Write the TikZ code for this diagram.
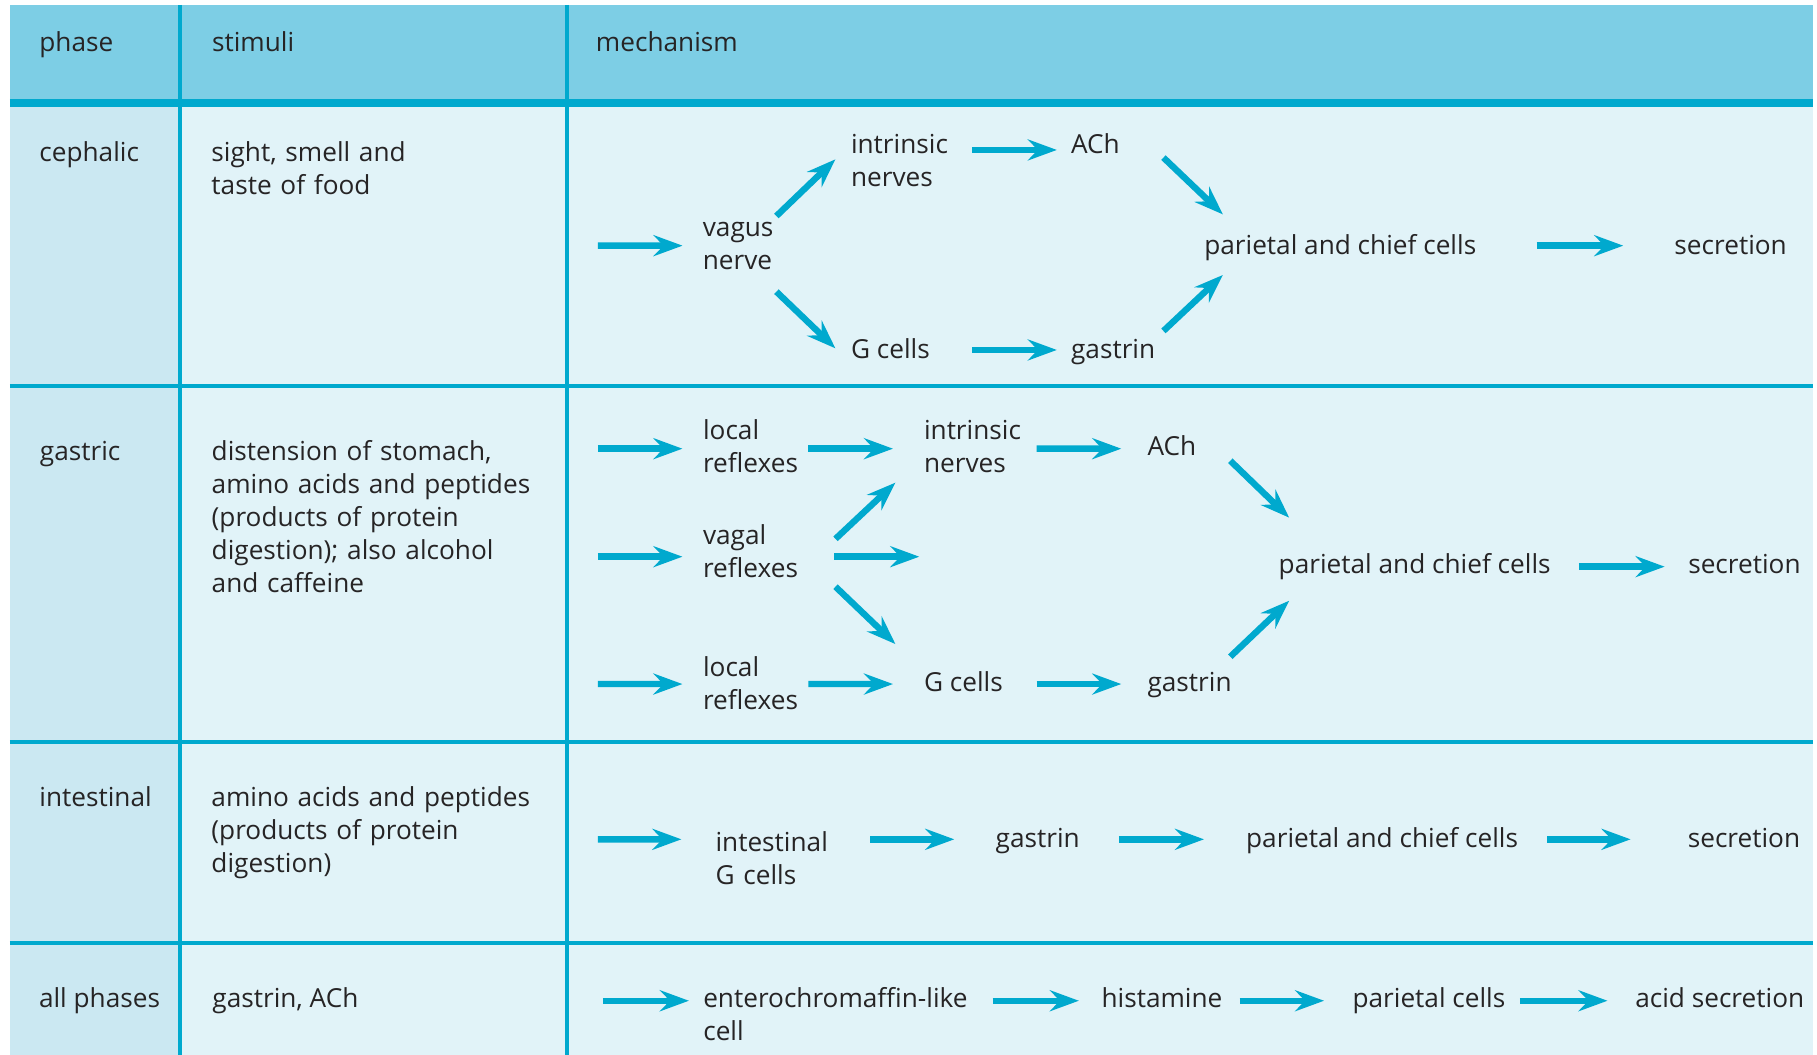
\documentclass[tikz,border=0pt]{standalone}
\usepackage{fontspec}
\setmainfont{Open Sans}
\usetikzlibrary{arrows.meta}
\definecolor{hdr}{RGB}{125,206,229}
\definecolor{lc}{RGB}{0,169,206}
\definecolor{bodyc}{RGB}{225,243,248}
\definecolor{phc}{RGB}{203,232,242}
\definecolor{txt}{RGB}{38,36,37}
\begin{document}
\begin{tikzpicture}[x=0.5794pt,y=-0.5794pt,
  lbl/.style={anchor=base west, inner sep=0pt, outer sep=0pt, text=txt, font=\fontsize{13.1}{16.5}\selectfont},
  ml/.style={lbl, text width=300pt, align=left},
  arr/.style={draw=lc, line width=3.2pt, -{Stealth[length=14.5pt,width=10.5pt,inset=5pt]}},
  rule/.style={draw=lc, line width=2pt}]
\useasboundingbox (0,0) rectangle (1568,910);
\fill[white] (0,0) rectangle (1568,910);
% table
\fill[hdr] (8.6,4.3) rectangle (1564.6,89);
\fill[phc] (8.6,89) rectangle (155.3,910);
\fill[bodyc] (155.3,89) rectangle (1564.6,910);
\draw[lc, line width=4pt] (8.6,88.9) -- (1564.6,88.9);
\foreach \yy in {333.1,640,814} \draw[rule] (8.6,\yy) -- (1564.6,\yy);
\foreach \xx in {155.3,489} \draw[rule] (\xx,4.3) -- (\xx,910);
% header
\node[lbl] (hph) at (34,44.6) {phase};
\node[lbl] (hst) at (183,44.6) {stimuli};
\node[lbl] (hme) at (514.3,44.6) {mechanism};
% cephalic
\node[lbl] (pceph) at (34,139.5) {cephalic};
\node[ml] (sceph) at (182.5,139.5) {sight, smell and\\taste of food};
\node[ml] (vagus) at (606.5,204.2) {vagus\\nerve};
\node[ml] (cint) at (734.4,132.3) {intrinsic\\nerves};
\node[lbl] (cach) at (924.3,132.3) {ACh};
\node[lbl] (cpcc) at (1039.3,219.5) {parietal and chief cells};
\node[lbl] (csec) at (1445,219.5) {secretion};
\node[lbl] (cgc) at (734.4,309.2) {G cells};
\node[lbl] (cgas) at (924.3,309.2) {gastrin};
\coordinate (c0) at (516,212);
\draw[arr] (c0) -- ([shift={(-17.5,7.8)}]vagus.base west);
\draw[arr] ([shift={(63.5,-17.8)}]vagus.base west) -- ([shift={(-13.5,5.2)}]cint.base west);
\draw[arr] ([shift={(104.4,-2.9)}]cint.base west) -- ([shift={(-12.3,-2.9)}]cach.base west);
\draw[arr] ([shift={(79.7,3.7)}]cach.base west) -- ([shift={(16,-34.5)}]cpcc.base west);
\draw[arr] ([shift={(63.5,47.5)}]vagus.base west) -- ([shift={(-13.5,-8.6)}]cgc.base west);
\draw[arr] ([shift={(104.4,-7.2)}]cgc.base west) -- ([shift={(-12.3,-7.2)}]cgas.base west);
\draw[arr] ([shift={(79.7,-23.6)}]cgas.base west) -- ([shift={(16,17.8)}]cpcc.base west);
\draw[arr] ([shift={(286.7,-7.5)}]cpcc.base west) -- ([shift={(-44.2,-7.5)}]csec.base west);
% gastric
\node[lbl] (pgas) at (34.5,397) {gastric};
\node[ml] (sgas) at (182.7,397) {distension of stomach,\\amino acids and peptides\\(products of protein\\digestion); also alcohol\\and caffeine};
\node[ml] (gl1) at (606.7,379.1) {local\\reflexes};
\node[ml] (gint) at (797.4,379.1) {intrinsic\\nerves};
\node[lbl] (gach) at (990.3,393.5) {ACh};
\node[lbl] (gpcc) at (1103.5,494.8) {parietal and chief cells};
\node[lbl] (gsec) at (1456.9,494.8) {secretion};
\node[ml] (gvag) at (606.7,469.5) {vagal\\reflexes};
\node[ml] (gl2) at (606.7,583.4) {local\\reflexes};
\node[lbl] (ggc) at (797.4,596.9) {G cells};
\node[lbl] (ggas) at (990.3,596.9) {gastrin};
\coordinate (g0a) at (515.9,387.2);
\coordinate (g0b) at (515.9,480.4);
\coordinate (g0c) at (515.9,590.3);
\coordinate (g1) at (793.3,480.4);
\draw[arr] (g0a) -- ([shift={(-17.8,8.1)}]gl1.base west);
\draw[arr] ([shift={(90.8,8.1)}]gl1.base west) -- ([shift={(-26.8,8.1)}]gint.base west);
\draw[arr] ([shift={(97.1,8.1)}]gint.base west) -- ([shift={(-22.7,-6.3)}]gach.base west);
\draw[arr] ([shift={(71.4,4.1)}]gach.base west) -- ([shift={(9,-48.1)}]gpcc.base west);
\draw[arr] (g0b) -- ([shift={(-17.8,10.9)}]gvag.base west);
\draw[arr] ([shift={(114.3,-4.5)}]gvag.base west) -- ([shift={(-24.7,37.4)}]gint.base west);
\draw[arr] ([shift={(113.3,10.9)}]gvag.base west) -- (g1);
\draw[arr] ([shift={(114.3,36.8)}]gvag.base west) -- ([shift={(-24.7,-41.1)}]ggc.base west);
\draw[arr] (g0c) -- ([shift={(-17.8,6.9)}]gl2.base west);
\draw[arr] ([shift={(90.8,6.9)}]gl2.base west) -- ([shift={(-26.8,-6.6)}]ggc.base west);
\draw[arr] ([shift={(97.1,-6.6)}]ggc.base west) -- ([shift={(-22.7,-6.6)}]ggas.base west);
\draw[arr] ([shift={(71.4,-30.2)}]ggas.base west) -- ([shift={(9,23.6)}]gpcc.base west);
\draw[arr] ([shift={(258.9,-5.8)}]gpcc.base west) -- ([shift={(-20.4,-5.8)}]gsec.base west);
% intestinal
\node[lbl] (pint) at (34,696) {intestinal};
\node[ml] (sint) at (182.5,696) {amino acids and peptides\\(products of protein\\digestion)};
\node[ml] (iig) at (617.5,735) {intestinal\\G cells};
\node[lbl] (igas) at (859.2,731.2) {gastrin};
\node[lbl] (ipcc) at (1075.4,731.2) {parietal and chief cells};
\node[lbl] (isec) at (1456.5,731.2) {secretion};
\coordinate (i0) at (516,724.3);
\draw[arr] (i0) -- ([shift={(-29.5,-10.7)}]iig.base west);
\draw[arr] ([shift={(133.3,-10.7)}]iig.base west) -- ([shift={(-35.7,-6.9)}]igas.base west);
\draw[arr] ([shift={(106.4,-6.9)}]igas.base west) -- ([shift={(-36.4,-6.9)}]ipcc.base west);
\draw[arr] ([shift={(259.6,-6.9)}]ipcc.base west) -- ([shift={(-49.4,-6.9)}]isec.base west);
% all phases
\node[lbl] (pall) at (33.7,869.3) {all phases};
\node[lbl] (sall) at (183.3,869.3) {gastrin, ACh};
\node[ml] (aec) at (606.9,869.3) {enterochromaffin-like\\cell};
\node[lbl] (ahis) at (950.6,869.3) {histamine};
\node[lbl] (apc) at (1167.2,869.3) {parietal cells};
\node[lbl] (aacid) at (1411.2,869.3) {acid secretion};
\coordinate (a0) at (520.2,863.6);
\draw[arr] (a0) -- ([shift={(-12.4,-5.7)}]aec.base west);
\draw[arr] ([shift={(249.7,-5.7)}]aec.base west) -- ([shift={(-19.6,-5.7)}]ahis.base west);
\draw[arr] ([shift={(119.2,-5.7)}]ahis.base west) -- ([shift={(-24.6,-5.7)}]apc.base west);
\draw[arr] ([shift={(144.4,-5.7)}]apc.base west) -- ([shift={(-24,-5.7)}]aacid.base west);
\end{tikzpicture}
\end{document}
